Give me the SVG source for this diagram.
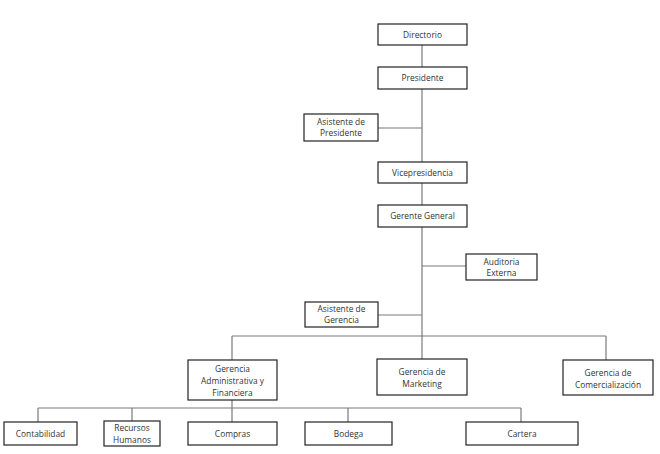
<svg xmlns="http://www.w3.org/2000/svg" width="660" height="454" viewBox="0 0 660 454">
<style>
.box rect{fill:#fff;stroke:#222;stroke-width:1.2}
.box text{font-family:"Open Sans","Liberation Sans",sans-serif;font-size:8.4px;fill:#333;text-anchor:middle}
#connectors path{fill:none;stroke:#7a7a7a;stroke-width:1.2}
</style>
<rect width="660" height="454" fill="#fff"/>
<g id="connectors">
<path d="M422 45V67"/>
<path d="M422 89V162"/>
<path d="M378 128H422"/>
<path d="M422 183V205"/>
<path d="M422 227V359"/>
<path d="M422 266H466"/>
<path d="M378 315H422"/>
<path d="M232 336H606"/>
<path d="M232 336V360"/>
<path d="M606 336V360"/>
<path d="M232 400V422"/>
<path d="M38 408H521"/>
<path d="M38 408V422"/>
<path d="M132 408V421"/>
<path d="M348 408V422"/>
<path d="M521 408V422"/>
</g>
<g id="directorio" class="box"><rect x="378" y="24" width="89" height="21"/><text x="422.5" y="37.5">Directorio</text></g>
<g id="presidente" class="box"><rect x="378" y="67" width="89" height="22"/><text x="422.5" y="81">Presidente</text></g>
<g id="asistente-presidente" class="box"><rect x="304" y="114" width="74" height="27"/><text x="341" y="125">Asistente de</text><text x="341" y="136">Presidente</text></g>
<g id="vicepresidencia" class="box"><rect x="378" y="162" width="89" height="21"/><text x="422.5" y="175.5">Vicepresidencia</text></g>
<g id="gerente-general" class="box"><rect x="378" y="205" width="89" height="22"/><text x="422.5" y="219">Gerente General</text></g>
<g id="auditoria-externa" class="box"><rect x="466" y="254" width="71" height="26"/><text x="501.5" y="264.5">Auditoria</text><text x="501.5" y="275.5">Externa</text></g>
<g id="asistente-gerencia" class="box"><rect x="305" y="302" width="73" height="25"/><text x="341.5" y="312">Asistente de</text><text x="341.5" y="323">Gerencia</text></g>
<g id="gerencia-administrativa" class="box"><rect x="188" y="360" width="89" height="40"/><text x="232.5" y="372">Gerencia</text><text x="232.5" y="384">Administrativa y</text><text x="232.5" y="396">Financiera</text></g>
<g id="gerencia-marketing" class="box"><rect x="377" y="359" width="90" height="36"/><text x="422" y="375">Gerencia de</text><text x="422" y="387">Marketing</text></g>
<g id="gerencia-comercializacion" class="box"><rect x="563" y="360" width="90" height="35"/><text x="608" y="375.5">Gerencia de</text><text x="608" y="387.5">Comercialización</text></g>
<g id="contabilidad" class="box"><rect x="4" y="422" width="73" height="23"/><text x="40.5" y="436.5">Contabilidad</text></g>
<g id="recursos-humanos" class="box"><rect x="104" y="421" width="56" height="25"/><text x="132" y="431">Recursos</text><text x="132" y="443">Humanos</text></g>
<g id="compras" class="box"><rect x="188" y="422" width="89" height="23"/><text x="232.5" y="436.5">Compras</text></g>
<g id="bodega" class="box"><rect x="305" y="422" width="87" height="23"/><text x="348.5" y="436.5">Bodega</text></g>
<g id="cartera" class="box"><rect x="466" y="422" width="112" height="23"/><text x="522" y="436.5">Cartera</text></g>
</svg>
